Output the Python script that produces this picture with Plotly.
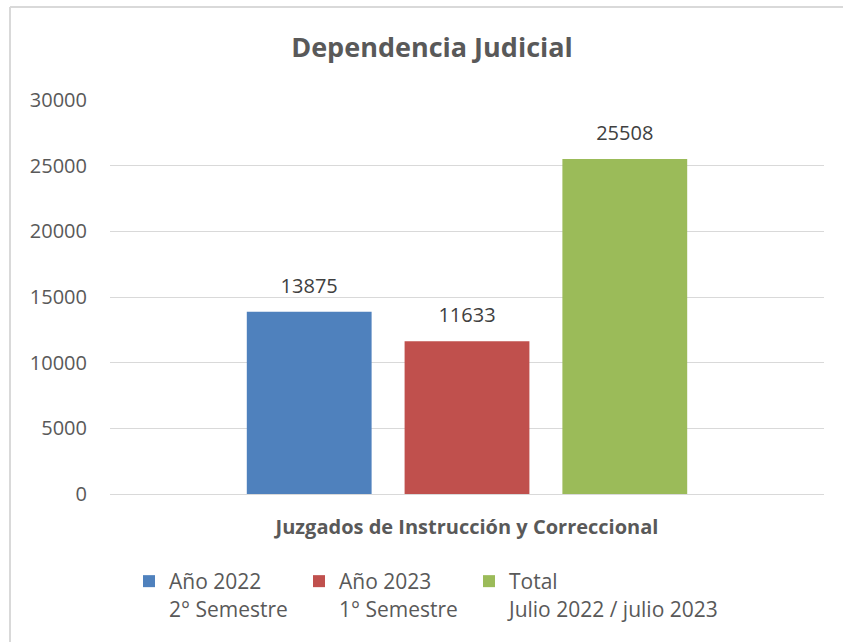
import plotly.graph_objects as go

categories = ["Juzgados de Instrucción y Correccional"]
series_names = ["Año 2022<br>2° Semestre", "Año 2023<br>1° Semestre", "Total<br>Julio 2022 / julio 2023"]
series_values = [[13875], [11633], [25508]]
series_colors = ["#4F81BD", "#C0504D", "#9BBB59"]
y_ticks = [0, 5000, 10000, 15000, 20000, 25000, 30000]

FONT = "Open Sans"
TXT = "#595959"
BARGAP = 0.337

fig = go.Figure()
for i, (name, vals, col) in enumerate(zip(series_names, series_values, series_colors)):
    fig.add_trace(go.Bar(
        x=categories, y=vals, name=name, marker=dict(color=col, line=dict(width=0)),
        offsetgroup=str(i), legendgroup=str(i),
    ))
# data labels, grouped the same way as the bars
for i, vals in enumerate(series_values):
    fig.add_trace(go.Scatter(
        x=categories, y=vals, mode="markers+text", text=[f"{v:d}" for v in vals],
        textposition="top center", marker=dict(size=21, color="rgba(0,0,0,0)"),
        textfont=dict(family=FONT, size=20, color="#404040"),
        offsetgroup=str(i), showlegend=False, hoverinfo="skip", cliponaxis=False,
    ))
# invisible spacer entry so the last legend label is not clipped
fig.add_trace(go.Scatter(x=[None], y=[None], mode="markers", name=" ",
                         marker=dict(color="rgba(0,0,0,0)"), hoverinfo="skip"))

L, R, T, B = 110, 19, 100, 148
W, H = 843, 642
pw, ph = W - L - R, H - T - B

def px_x(p):
    return (p - L) / pw

def px_y(p):
    return (H - B - p) / ph

border = "#D9D9D9"
fig.update_layout(
    width=W, height=H,
    margin=dict(l=L, r=R, t=T, b=B),
    paper_bgcolor="white", plot_bgcolor="white",
    barmode="group", bargap=BARGAP, bargroupgap=0.209,
    scattermode="group", scattergap=BARGAP,
    title=dict(text="<b>Dependencia Judicial</b>", x=432 / W, xanchor="center",
               y=1 - 48 / H, yanchor="middle",
               font=dict(family=FONT, size=27, color=TXT)),
    font=dict(family=FONT, color=TXT),
    xaxis=dict(showgrid=False, showline=False, zeroline=False,
               tickfont=dict(family=FONT, size=20, color=TXT),
               tickprefix="<b>", ticksuffix="</b>", ticklabelstandoff=19),
    yaxis=dict(range=[0, 30000], tickvals=y_ticks, tickformat="d", showgrid=True,
               gridcolor="#D9D9D9", gridwidth=1, zeroline=True, zerolinecolor="#D9D9D9",
               zerolinewidth=1, showline=False,
               tickfont=dict(family=FONT, size=20, color=TXT), ticklabelstandoff=22),
    legend=dict(orientation="h", x=px_x(129), xanchor="left", y=px_y(561), yanchor="top",
                font=dict(family=FONT, size=21, color=TXT), valign="top",
                entrywidth=125, itemwidth=30, bgcolor="rgba(0,0,0,0)",
                traceorder="normal"),
    showlegend=True,
    shapes=[
        dict(type="line", xref="paper", yref="paper", x0=px_x(10), x1=px_x(10),
             y0=px_y(7), y1=px_y(H + 5), line=dict(color=border, width=2)),
        dict(type="line", xref="paper", yref="paper", x0=px_x(10), x1=px_x(W + 5),
             y0=px_y(7), y1=px_y(7), line=dict(color=border, width=2)),
    ],
)

fig.write_html("out.html", config={"displayModeBar": False},
               post_script="document.body.style.margin='0';")
